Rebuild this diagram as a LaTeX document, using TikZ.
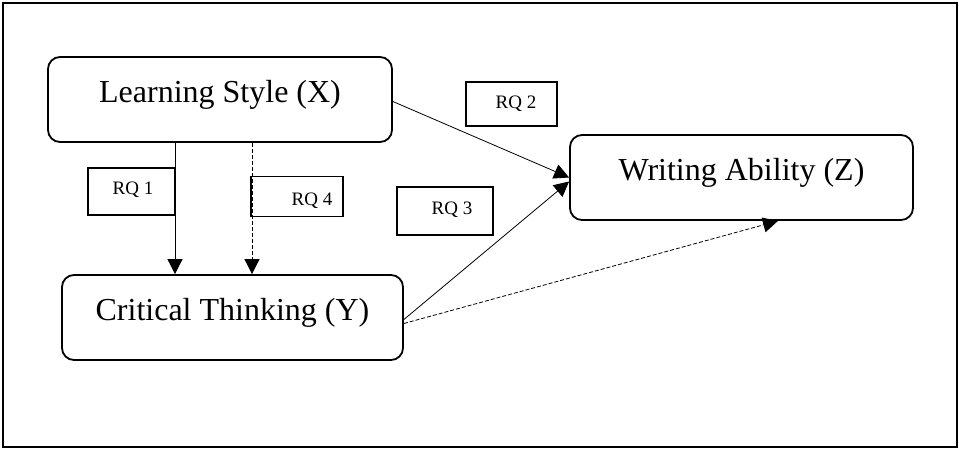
\documentclass[tikz,border=0pt]{standalone}
\usepackage{fontspec}
\setmainfont{Liberation Serif}
\usetikzlibrary{arrows.meta}
\begin{document}
\begin{tikzpicture}[x=1pt,y=-1pt,
  bigbox/.style={draw, line width=1.8pt, rounded corners=12pt, minimum width=#1, minimum height=85pt,
    font=\fontsize{32}{36}\selectfont, text height=22pt, text depth=16pt, inner sep=0pt},
  rqbox/.style={draw, line width=1.8pt, inner sep=0pt},
  rqtext/.style={font=\fontsize{19}{22}\selectfont, inner sep=0pt},
  arr/.style={line width=0.8pt, -{Triangle[length=15pt,width=15pt]}},
  dsh/.style={arr, dash pattern=on 4pt off 2pt}]
\useasboundingbox (0,0) rectangle (959,449);
\draw[line width=2pt] (3,3) rectangle (957,447);

\node[bigbox=344pt] (ls) at (220,99.5) {Learning Style (X)};
\node[bigbox=341pt] (ct) at (232.5,317.5) {Critical Thinking (Y)};
\node[bigbox=343pt] (wa) at (741.5,177.5) {Writing Ability (Z)};

\node[rqbox, minimum width=87pt, minimum height=47pt] (rq1) at (131.5,191.5) {};
\node[rqtext] (rq1t) at (133,190) {RQ 1};
\node[rqbox, minimum width=92pt, minimum height=40pt] (rq4) at (297,196.5) {};
\node[rqtext] (rq4t) at (312,201) {RQ 4};
\node[rqbox, minimum width=91pt, minimum height=44pt] (rq2) at (511.5,104) {};
\node[rqtext] (rq2t) at (516,104) {RQ 2};
\node[rqbox, minimum width=96pt, minimum height=48pt] (rq3) at (445,211) {};
\node[rqtext] (rq3t) at (452,210) {RQ 3};

\coordinate (xa) at (175,0);
\coordinate (xb) at (252,0);
\coordinate (xc) at (778,0);

\draw[arr] (ls.south -| xa) -- (ct.north -| xa);
\draw[dsh] (ls.south -| xb) -- (ct.north -| xb);
\draw[arr] ([yshift=-2pt]ls.east) -- (wa.west);
\draw[arr] ([yshift=-2pt]ct.east) -- ([yshift=-4pt]wa.west);
\draw[dsh] ([yshift=-6pt]ct.east) -- (wa.south -| xc);
\end{tikzpicture}
\end{document}
